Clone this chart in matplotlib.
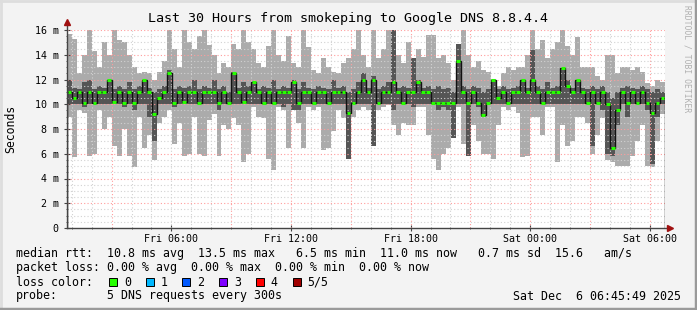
import numpy as np
import matplotlib.pyplot as plt
from matplotlib.patches import Rectangle
from matplotlib.lines import Line2D
from matplotlib.ticker import FixedLocator, MultipleLocator

plt.rcParams['font.family'] = ['DejaVu Sans Mono']

# 15 minute samples, ms, starting Fri 00:45:49 (30 hours)
hi_out = [15.7, 15.3, 12.5, 14.0, 16.3, 14.3, 13.0, 15.0, 14.0, 16.3,
          15.2, 15.0, 14.0, 13.0, 12.5, 12.6, 12.5, 12.0, 12.6, 13.5,
          16.3, 14.5, 13.0, 16.3, 15.0, 14.5, 15.5, 16.0, 14.8, 14.0,
          12.5, 13.3, 13.0, 14.9, 14.5, 16.1, 15.0, 14.5, 13.3, 13.0,
          14.7, 16.2, 14.0, 13.5, 15.5, 13.3, 13.0, 16.1, 14.6, 12.8,
          12.5, 13.7, 13.0, 12.6, 12.5, 13.3, 13.7, 14.5, 16.0, 14.0,
          13.0, 16.1, 13.7, 14.5, 16.1, 16.1, 14.0, 13.3, 15.0, 13.7,
          14.5, 13.8, 15.6, 15.6, 13.7, 14.0, 13.3, 12.0, 14.9, 16.1,
          14.0, 13.0, 13.5, 12.8, 12.6, 12.0, 11.5, 12.5, 13.0, 12.8,
          13.0, 13.0, 14.0, 16.2, 14.5, 15.2, 13.7, 14.5, 15.0, 16.1,
          14.7, 14.0, 15.4, 13.0, 13.0, 13.0, 12.3, 12.0, 14.0, 14.0,
          12.5, 13.0, 13.0, 12.8, 13.0, 12.6, 11.7, 11.5, 12.0, 11.8]
hi_in = [12.0, 11.3, 11.2, 11.8, 12.0, 11.2, 11.5, 11.3, 12.0, 11.2,
         11.5, 11.2, 11.8, 11.2, 11.5, 12.0, 11.3, 11.0, 11.2, 11.5,
         12.8, 11.2, 11.5, 11.3, 11.5, 12.0, 11.2, 11.5, 11.3, 12.0,
         11.2, 11.5, 11.0, 12.6, 11.3, 11.8, 11.5, 11.8, 11.2, 11.5,
         11.3, 12.0, 11.2, 11.5, 11.3, 12.0, 11.2, 11.8, 11.3, 11.2,
         11.5, 11.3, 11.2, 12.0, 11.3, 11.5, 11.0, 11.2, 11.8, 12.5,
         11.3, 12.3, 11.2, 11.5, 11.8, 16.1, 11.3, 11.5, 11.3, 13.7,
         12.0, 11.3, 11.5, 11.2, 11.5, 11.2, 11.3, 11.0, 14.9, 11.5,
         11.2, 11.5, 11.3, 11.0, 11.2, 12.0, 11.2, 11.5, 11.2, 11.3,
         11.5, 12.0, 11.3, 14.4, 11.5, 11.2, 11.8, 11.3, 11.5, 12.9,
         12.0, 11.3, 12.0, 11.3, 11.2, 11.5, 11.2, 11.5, 11.0, 10.5,
         11.0, 11.3, 11.5, 11.3, 11.2, 11.5, 11.2, 11.0, 11.2, 11.0]
median = [11.0, 10.5, 11.0, 10.1, 11.0, 10.1, 11.0, 11.0, 12.0, 10.2,
          11.0, 10.1, 11.0, 10.1, 11.0, 12.0, 11.0, 9.2, 10.5, 11.0,
          12.5, 10.1, 11.0, 10.2, 11.0, 11.0, 10.1, 11.0, 11.0, 11.0,
          10.1, 11.0, 10.1, 12.5, 11.0, 10.2, 11.0, 11.8, 11.0, 10.1,
          11.0, 10.1, 11.0, 11.0, 11.0, 11.8, 10.1, 11.0, 11.0, 10.1,
          11.0, 11.0, 10.1, 11.0, 11.0, 11.0, 9.3, 10.1, 11.0, 12.0,
          11.0, 12.0, 10.1, 11.0, 11.0, 11.8, 11.0, 10.1, 11.0, 11.0,
          11.8, 11.0, 11.0, 10.1, 10.1, 10.1, 10.1, 10.1, 13.5, 11.0,
          10.1, 11.0, 10.1, 9.1, 10.1, 12.0, 10.5, 11.0, 10.1, 11.0,
          11.0, 12.0, 11.0, 12.0, 11.0, 10.1, 11.0, 11.0, 11.0, 12.9,
          11.5, 11.0, 12.0, 11.0, 10.1, 11.0, 10.1, 11.0, 10.0, 6.5,
          9.5, 11.0, 10.1, 11.0, 10.1, 11.0, 10.1, 9.3, 10.1, 10.5]
lo_in = [10.0, 10.0, 10.0, 9.8, 10.0, 10.0, 10.0, 10.0, 10.0, 10.0,
         10.0, 9.8, 10.0, 9.5, 10.0, 10.0, 9.0, 7.0, 10.0, 10.0,
         10.0, 9.8, 10.0, 10.0, 10.0, 10.0, 10.0, 10.0, 10.0, 10.0,
         9.5, 10.0, 10.0, 10.0, 10.0, 10.0, 10.0, 10.0, 10.0, 10.0,
         10.0, 10.0, 10.0, 9.8, 10.0, 9.5, 9.5, 10.0, 10.0, 10.0,
         10.0, 10.0, 10.0, 10.0, 10.0, 10.0, 5.6, 10.0, 10.0, 10.0,
         10.0, 6.6, 10.0, 10.0, 10.0, 9.5, 10.0, 10.0, 10.0, 9.8,
         10.0, 10.0, 10.0, 10.0, 9.5, 9.8, 9.5, 7.3, 10.0, 10.0,
         5.8, 10.0, 9.8, 9.0, 10.0, 10.0, 10.0, 10.0, 10.0, 10.0,
         10.0, 10.0, 10.0, 10.0, 10.0, 10.0, 10.0, 10.0, 10.0, 10.0,
         10.0, 10.0, 10.0, 10.0, 10.0, 6.6, 10.0, 9.5, 6.0, 5.8,
         8.3, 10.0, 9.0, 10.0, 10.0, 10.0, 9.5, 5.2, 9.0, 10.0]
lo_out = [9.0, 5.7, 9.5, 9.3, 5.8, 6.0, 9.5, 8.0, 9.0, 6.6,
          5.8, 8.0, 5.8, 4.9, 9.0, 6.5, 7.5, 5.5, 8.5, 9.0,
          9.5, 6.8, 8.5, 5.8, 6.0, 9.0, 6.0, 5.8, 8.7, 9.2,
          5.8, 8.3, 8.0, 8.9, 8.3, 5.3, 6.0, 9.8, 9.0, 8.9,
          5.6, 4.7, 9.8, 9.5, 6.5, 9.5, 8.5, 6.5, 9.8, 9.5,
          9.8, 6.3, 6.5, 7.8, 9.5, 8.9, 5.6, 9.0, 9.5, 9.8,
          9.5, 6.6, 9.5, 9.8, 9.9, 8.3, 7.5, 8.5, 8.3, 8.3,
          9.8, 9.8, 7.5, 5.6, 4.7, 6.0, 6.5, 7.3, 9.8, 6.8,
          5.8, 8.3, 7.0, 6.0, 6.0, 5.6, 8.3, 9.8, 9.5, 9.8,
          9.3, 5.7, 5.8, 9.0, 9.0, 7.5, 9.8, 9.8, 5.3, 8.3,
          6.6, 7.0, 9.0, 9.0, 8.5, 6.0, 7.5, 8.9, 5.5, 5.3,
          5.0, 5.0, 5.0, 5.8, 7.0, 8.3, 5.0, 4.9, 7.0, 9.2]

hi_out = np.array(hi_out)
hi_in = np.array(hi_in)
median = np.array(median)
lo_in = np.array(lo_in)
lo_out = np.array(lo_out)

step = 0.25
edges = np.arange(len(median) + 1) * step
offset = 5.2364  # hours from start to Fri 06:00
tick_pos = [offset + 6 * k for k in range(5)]
tick_lab = ["Fri 06:00", "Fri 12:00", "Fri 18:00", "Sat 00:00", "Sat 06:00"]

W, H = 697, 310
fig = plt.figure(figsize=(W / 100, H / 100), dpi=100, facecolor='#f3f3f3')
ax = fig.add_axes([67 / W, 82 / H, 598 / W, 198 / H])
ax.set_facecolor('white')

ax.bar(edges[:-1], hi_out - lo_out, bottom=lo_out, width=step, align='edge',
       color='#ababab', linewidth=0, zorder=1)
ax.bar(edges[:-1], hi_in - lo_in, bottom=lo_in, width=step, align='edge',
       color='#555555', linewidth=0, zorder=1.1)
ax.stairs(median, edges, color='#111111', lw=1, zorder=3)
ax.hlines(median, edges[:-1] + 0.03, edges[1:] - 0.03, color='#26ff00', lw=2.2, zorder=4)

ax.set_xlim(0, 30)
ax.set_ylim(0, 16)

# grid
for h in np.arange(0.2364, 30, 1.0):
    c = '#ff9c9c' if abs((h - 2.2364) % 3) < 0.01 else '#d2d2d2'
    ax.axvline(h, color=c, lw=0.8, ls=(0, (1, 2)), zorder=2.5)
for v in np.arange(0.5, 16.01, 0.5):
    c = '#ff9c9c' if abs(v % 2) < 0.01 else '#d2d2d2'
    ax.axhline(v, color=c, lw=0.8, ls=(0, (1, 2)), zorder=2.5)

ax.xaxis.set_major_locator(FixedLocator(tick_pos))
ax.set_xticklabels(tick_lab)
ax.xaxis.set_minor_locator(FixedLocator(np.arange(0.2364, 30, 1.0)))
ax.yaxis.set_minor_locator(MultipleLocator(0.5))
ax.set_yticks(range(0, 17, 2))
ax.set_yticklabels(["0"] + ["%d m" % v for v in range(2, 17, 2)])
ax.tick_params(axis='both', which='major', direction='inout', length=4, width=0.8,
               color='#444444', labelsize=7.2, labelcolor='black')
ax.tick_params(axis='both', which='minor', direction='inout', length=2, width=0.6,
               color='#444444')
ax.tick_params(axis='x', which='major', pad=2)
ax.tick_params(axis='y', which='major', pad=4)

for s in ['top', 'right', 'left', 'bottom']:
    ax.spines[s].set_visible(False)
ax.plot([0, 0], [0, 1.04], transform=ax.transAxes, color='#444444', lw=1, clip_on=False, zorder=5)
ax.plot([0, 1.008], [0, 0], transform=ax.transAxes, color='#444444', lw=1, clip_on=False, zorder=5)
ax.plot([0], [1.04], marker='^', ms=5, color='#a01010', transform=ax.transAxes, clip_on=False, zorder=6)
ax.plot([1.008], [0], marker='>', ms=5, color='#a01010', transform=ax.transAxes, clip_on=False, zorder=6)


def px(x, y):
    return x / W, 1 - y / H


fig.text(*px(348, 18.5), "Last 30 Hours from smokeping to Google DNS 8.8.4.4",
         ha='center', va='center', fontsize=9.6)
fig.text(*px(11, 129), "Seconds", rotation=90, ha='center', va='center', fontsize=8.3)
fig.text(*px(687, 5), "RRDTOOL / TOBI OETIKER", rotation=270, ha='center', va='top',
         fontsize=5.8, color='#b0b0b0')

leg = 8.4
fig.text(*px(16, 254), "median rtt:  10.8 ms avg  13.5 ms max   6.5 ms min  11.0 ms now   0.7 ms sd  15.6   am/s",
         ha='left', va='center', fontsize=leg)
fig.text(*px(16, 268), "packet loss: 0.00 % avg  0.00 % max  0.00 % min  0.00 % now",
         ha='left', va='center', fontsize=leg)
fig.text(*px(16, 282), "loss color:", ha='left', va='center', fontsize=leg)
loss_colors = ['#26ff00', '#00b8ff', '#0059ff', '#7e00ff', '#ff0000', '#a00000']
loss_labels = ['0', '1', '2', '3', '4', '5/5']
for k, (c, lab) in enumerate(zip(loss_colors, loss_labels)):
    x0 = 109 + 36.7 * k
    fig.add_artist(Rectangle(px(x0, 286), 8 / W, 8 / H, facecolor=c,
                             edgecolor='black', lw=0.7, transform=fig.transFigure))
    fig.text(*px(x0 + 15, 282), lab, ha='left', va='center', fontsize=leg)
fig.text(*px(16, 296), "probe:", ha='left', va='center', fontsize=leg)
fig.text(*px(107, 296), "5 DNS requests every 300s", ha='left', va='center', fontsize=leg)
fig.text(*px(681, 296), "Sat Dec  6 06:45:49 2025", ha='right', va='center', fontsize=leg)

# frame
fig.add_artist(Line2D([0, 1], [1 - 1 / H, 1 - 1 / H], color='#dddddd', lw=2, transform=fig.transFigure))
fig.add_artist(Line2D([1 / W, 1 / W], [0, 1], color='#dddddd', lw=2, transform=fig.transFigure))
fig.add_artist(Line2D([0, 1], [1.5 / H, 1.5 / H], color='#9a9a9a', lw=2.5, transform=fig.transFigure))
fig.add_artist(Line2D([1 - 1.5 / W, 1 - 1.5 / W], [0, 1], color='#9a9a9a', lw=2.5, transform=fig.transFigure))

fig.savefig('out.png', dpi=100, facecolor=fig.get_facecolor())
